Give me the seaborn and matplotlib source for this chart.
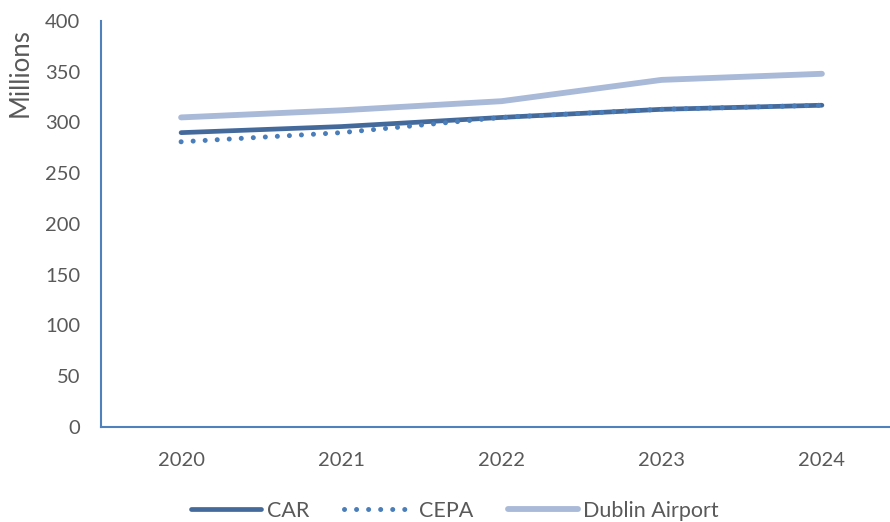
import numpy as np
import pandas as pd
import matplotlib
matplotlib.use("Agg")
import matplotlib.pyplot as plt
import seaborn as sns

# -------------------------------------------------------
# Data (millions)
# -------------------------------------------------------
years = ["2020", "2021", "2022", "2023", "2024"]
car = [290, 296, 305, 313, 317]
cepa = [281, 290, 305, 313, 317]
dublin_airport = [305, 312, 321, 342, 348]

series_names = ["CAR", "CEPA", "Dublin Airport"]
series_values = [car, cepa, dublin_airport]

df = pd.DataFrame({
    "pos": np.tile(np.arange(len(years)), len(series_names)),
    "value": np.concatenate(series_values),
    "series": np.repeat(series_names, len(years)),
})

# -------------------------------------------------------
# Styling
# -------------------------------------------------------
sns.set_style("white")
plt.rcParams["font.family"] = ["Lato", "DejaVu Sans"]

text_grey = "#595959"
axis_blue = "#4F81BD"
styles = {
    "CAR": dict(color="#44699B", lw=3.4, ls="-"),
    "CEPA": dict(color="#4A7EBB", lw=3.6, ls=(0, (0.01, 2.4))),
    "Dublin Airport": dict(color="#A9B9D8", lw=4.2, ls="-"),
}

fig = plt.figure(figsize=(8.9, 5.22), dpi=100)
ax = fig.add_axes([101 / 890, 95 / 522, 801 / 890, 406 / 522])

for name in series_names:
    st = styles[name]
    sub = df[df["series"] == name]
    sns.lineplot(
        data=sub, x="pos", y="value", ax=ax, label=name,
        color=st["color"], linewidth=st["lw"], linestyle=st["ls"],
        solid_capstyle="round", dash_capstyle="round",
    )

ax.set_xlim(-0.5, 4.5)
ax.set_ylim(0, 400)
ax.set_xticks(range(len(years)))
ax.set_xticklabels(years)
ax.set_yticks(range(0, 401, 50))
ax.set_xlabel("")
ax.set_ylabel("")

for side in ["top", "right"]:
    ax.spines[side].set_visible(False)
for side in ["left", "bottom"]:
    ax.spines[side].set_color(axis_blue)
    ax.spines[side].set_linewidth(1.5)

ax.tick_params(axis="y", direction="out", length=4, width=1.5, color=axis_blue,
               labelsize=14.5, labelcolor=text_grey, pad=11)
ax.tick_params(axis="x", length=0, labelsize=14.5, labelcolor=text_grey, pad=18)

fig.text(20 / 890, 1 - 73 / 522, "Millions", rotation=90, ha="center", va="center",
         fontsize=18.5, color=text_grey)

leg = ax.legend(loc="center", bbox_to_anchor=(455 / 890, 1 - 511 / 522),
                bbox_transform=fig.transFigure, ncol=3, frameon=False,
                fontsize=15.5, handlelength=3.25, columnspacing=1.6, handletextpad=0.25)
for t in leg.get_texts():
    t.set_color(text_grey)

fig.savefig("out.png", dpi=100)
